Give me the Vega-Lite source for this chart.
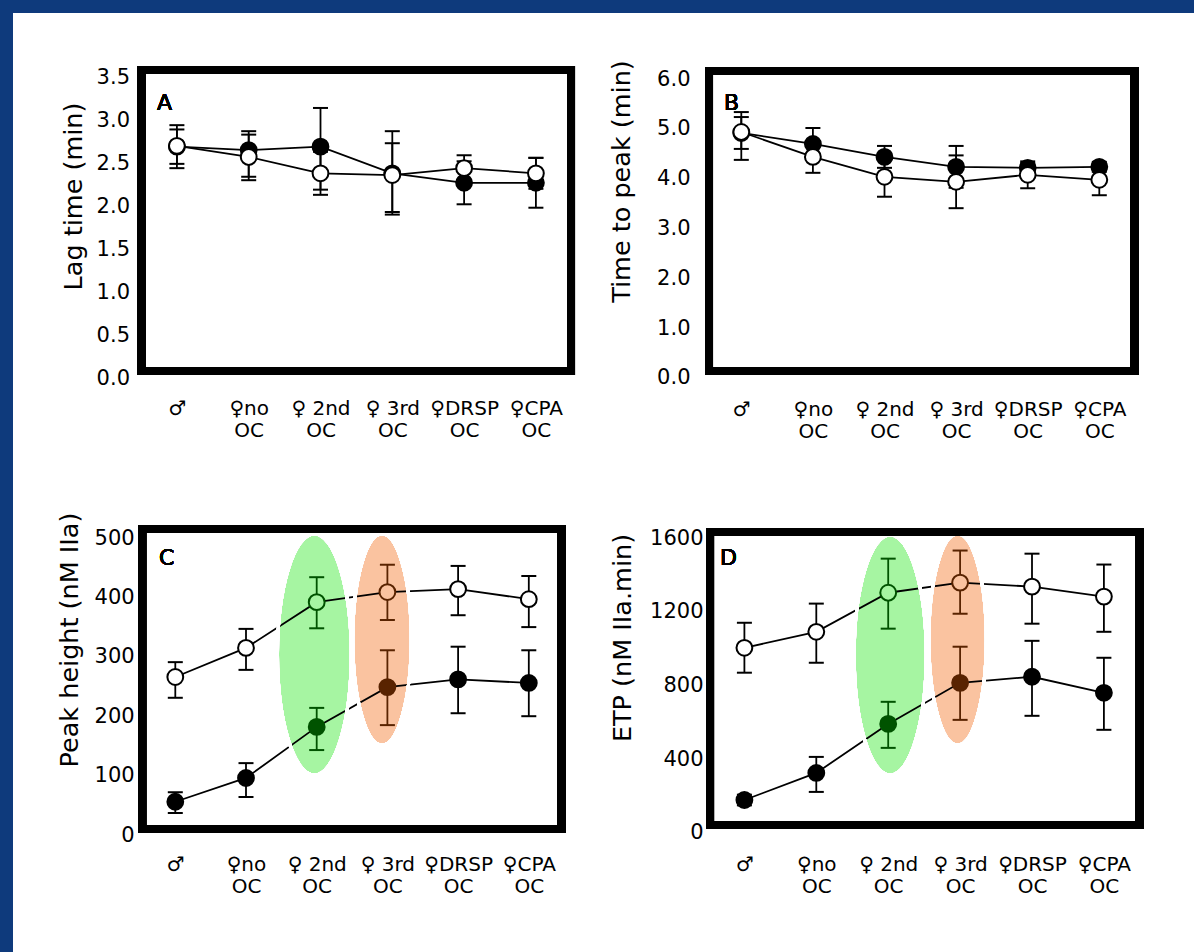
{
  "$schema": "https://vega.github.io/schema/vega-lite/v6.json",
  "background": "#0e3a7c",
  "padding": {"left": 13, "top": 13, "right": 0, "bottom": 0},
  "spacing": 0,
  "config": {
    "view": {"fill": "white", "stroke": null},
    "axis": {"domain": false, "ticks": false, "grid": false, "labelFont": "DejaVu Sans", "labelFontSize": 21, "labelColor": "black", "titleFont": "DejaVu Sans", "titleFontSize": 25.5, "titleFontWeight": "normal", "titleColor": "black", "labelOverlap": false, "labelFlush": false, "labelBound": false},
    "text": {"font": "DejaVu Sans"},
    "concat": {"spacing": 0}
  },
  "datasets": {
    "A": [
      {"group": "♂", "i": 0, "series": "filled", "mean": 2.69, "lo": 2.49, "hi": 2.89},
      {"group": "♀ no OC", "i": 1, "series": "filled", "mean": 2.65, "lo": 2.34, "hi": 2.87},
      {"group": "♀ 2nd OC", "i": 2, "series": "filled", "mean": 2.69, "lo": 2.19, "hi": 3.14},
      {"group": "♀ 3rd OC", "i": 3, "series": "filled", "mean": 2.38, "lo": 1.93, "hi": 2.87},
      {"group": "♀ DRSP OC", "i": 4, "series": "filled", "mean": 2.27, "lo": 2.02, "hi": 2.52},
      {"group": "♀ CPA OC", "i": 5, "series": "filled", "mean": 2.27, "lo": 1.98, "hi": 2.56},
      {"group": "♂", "i": 0, "series": "open", "mean": 2.7, "lo": 2.44, "hi": 2.94},
      {"group": "♀ no OC", "i": 1, "series": "open", "mean": 2.57, "lo": 2.3, "hi": 2.83},
      {"group": "♀ 2nd OC", "i": 2, "series": "open", "mean": 2.38, "lo": 2.13, "hi": 2.63},
      {"group": "♀ 3rd OC", "i": 3, "series": "open", "mean": 2.36, "lo": 1.9, "hi": 2.73},
      {"group": "♀ DRSP OC", "i": 4, "series": "open", "mean": 2.44, "lo": 2.29, "hi": 2.59},
      {"group": "♀ CPA OC", "i": 5, "series": "open", "mean": 2.38, "lo": 2.2, "hi": 2.56}
    ],
    "B": [
      {"group": "♂", "i": 0, "series": "filled", "mean": 4.92, "lo": 4.6, "hi": 5.24},
      {"group": "♀ no OC", "i": 1, "series": "filled", "mean": 4.7, "lo": 4.38, "hi": 5.02},
      {"group": "♀ 2nd OC", "i": 2, "series": "filled", "mean": 4.44, "lo": 4.22, "hi": 4.66},
      {"group": "♀ 3rd OC", "i": 3, "series": "filled", "mean": 4.24, "lo": 3.82, "hi": 4.66},
      {"group": "♀ DRSP OC", "i": 4, "series": "filled", "mean": 4.22, "lo": 4.12, "hi": 4.32},
      {"group": "♀ CPA OC", "i": 5, "series": "filled", "mean": 4.24, "lo": 4.14, "hi": 4.34},
      {"group": "♂", "i": 0, "series": "open", "mean": 4.94, "lo": 4.38, "hi": 5.34},
      {"group": "♀ no OC", "i": 1, "series": "open", "mean": 4.44, "lo": 4.12, "hi": 4.76},
      {"group": "♀ 2nd OC", "i": 2, "series": "open", "mean": 4.04, "lo": 3.64, "hi": 4.44},
      {"group": "♀ 3rd OC", "i": 3, "series": "open", "mean": 3.94, "lo": 3.41, "hi": 4.47},
      {"group": "♀ DRSP OC", "i": 4, "series": "open", "mean": 4.08, "lo": 3.81, "hi": 4.35},
      {"group": "♀ CPA OC", "i": 5, "series": "open", "mean": 3.98, "lo": 3.67, "hi": 4.29}
    ],
    "C": [
      {"group": "♂", "i": 0, "series": "filled", "mean": 56, "lo": 37, "hi": 72},
      {"group": "♀ no OC", "i": 1, "series": "filled", "mean": 96, "lo": 64, "hi": 121},
      {"group": "♀ 2nd OC", "i": 2, "series": "filled", "mean": 182, "lo": 143, "hi": 214},
      {"group": "♀ 3rd OC", "i": 3, "series": "filled", "mean": 249, "lo": 185, "hi": 311},
      {"group": "♀ DRSP OC", "i": 4, "series": "filled", "mean": 262, "lo": 205, "hi": 317},
      {"group": "♀ CPA OC", "i": 5, "series": "filled", "mean": 256, "lo": 200, "hi": 311},
      {"group": "♂", "i": 0, "series": "open", "mean": 266, "lo": 231, "hi": 291},
      {"group": "♀ no OC", "i": 1, "series": "open", "mean": 315, "lo": 278, "hi": 347},
      {"group": "♀ 2nd OC", "i": 2, "series": "open", "mean": 392, "lo": 348, "hi": 434},
      {"group": "♀ 3rd OC", "i": 3, "series": "open", "mean": 409, "lo": 362, "hi": 455},
      {"group": "♀ DRSP OC", "i": 4, "series": "open", "mean": 414, "lo": 370, "hi": 453},
      {"group": "♀ CPA OC", "i": 5, "series": "open", "mean": 397, "lo": 350, "hi": 436}
    ],
    "D": [
      {"group": "♂", "i": 0, "series": "filled", "mean": 179, "lo": 150, "hi": 208},
      {"group": "♀ no OC", "i": 1, "series": "filled", "mean": 326, "lo": 223, "hi": 413},
      {"group": "♀ 2nd OC", "i": 2, "series": "filled", "mean": 592, "lo": 462, "hi": 712},
      {"group": "♀ 3rd OC", "i": 3, "series": "filled", "mean": 815, "lo": 614, "hi": 1011},
      {"group": "♀ DRSP OC", "i": 4, "series": "filled", "mean": 848, "lo": 636, "hi": 1043},
      {"group": "♀ CPA OC", "i": 5, "series": "filled", "mean": 761, "lo": 560, "hi": 951},
      {"group": "♂", "i": 0, "series": "open", "mean": 1005, "lo": 870, "hi": 1141},
      {"group": "♀ no OC", "i": 1, "series": "open", "mean": 1092, "lo": 924, "hi": 1245},
      {"group": "♀ 2nd OC", "i": 2, "series": "open", "mean": 1304, "lo": 1109, "hi": 1489},
      {"group": "♀ 3rd OC", "i": 3, "series": "open", "mean": 1359, "lo": 1190, "hi": 1533},
      {"group": "♀ DRSP OC", "i": 4, "series": "open", "mean": 1337, "lo": 1136, "hi": 1516},
      {"group": "♀ CPA OC", "i": 5, "series": "open", "mean": 1283, "lo": 1092, "hi": 1457}
    ]
  },
  "vconcat": [
    {
      "spacing": 0,
      "hconcat": [
        {
          "width": 590, "height": 469,
          "data": {"name": "A"},
          "layer": [
            {"mark": {"type": "rect", "filled": false, "stroke": "black", "strokeWidth": 8},
             "encoding": {
               "x": {"datum": -0.493, "type": "quantitative", "scale": {"domain": [-2.2827, 5.9345], "nice": false, "zero": false}},
               "x2": {"datum": 5.489},
               "y": {"datum": 3.581, "type": "quantitative", "scale": {"domain": [-1.2093, 4.2442], "nice": false, "zero": false}},
               "y2": {"datum": 0.0814}
             }},
            {"mark": {"type": "line", "color": "black", "strokeWidth": 1.8},
             "encoding": {
               "x": {"field": "i", "type": "quantitative", "scale": {"domain": [-2.2827, 5.9345], "nice": false, "zero": false}},
               "y": {"field": "mean", "type": "quantitative", "scale": {"domain": [-1.2093, 4.2442], "nice": false, "zero": false}},
               "detail": {"field": "series"}, "order": {"field": "i"}}},
            {"mark": {"type": "rule", "color": "black", "strokeWidth": 1.8},
             "encoding": {
               "x": {"field": "i", "type": "quantitative", "scale": {"domain": [-2.2827, 5.9345], "nice": false, "zero": false}},
               "y": {"field": "lo", "type": "quantitative", "scale": {"domain": [-1.2093, 4.2442], "nice": false, "zero": false}},
               "y2": {"field": "hi"}}},
            {"mark": {"type": "tick", "orient": "horizontal", "color": "black", "thickness": 2, "size": 15, "opacity": 1},
             "encoding": {
               "x": {"field": "i", "type": "quantitative", "scale": {"domain": [-2.2827, 5.9345], "nice": false, "zero": false}},
               "y": {"field": "lo", "type": "quantitative", "scale": {"domain": [-1.2093, 4.2442], "nice": false, "zero": false}}}},
            {"mark": {"type": "tick", "orient": "horizontal", "color": "black", "thickness": 2, "size": 15, "opacity": 1},
             "encoding": {
               "x": {"field": "i", "type": "quantitative", "scale": {"domain": [-2.2827, 5.9345], "nice": false, "zero": false}},
               "y": {"field": "hi", "type": "quantitative", "scale": {"domain": [-1.2093, 4.2442], "nice": false, "zero": false}}}},
            {"mark": {"type": "point", "shape": "circle", "filled": true, "size": 250, "stroke": "black", "strokeWidth": 2, "opacity": 1},
             "encoding": {
               "x": {"field": "i", "type": "quantitative", "scale": {"domain": [-2.2827, 5.9345], "nice": false, "zero": false},
                     "axis": {"orient": "bottom", "offset": -111, "values": [0, 1, 2, 3, 4, 5], "labelExpr": "[['♂'],['♀no','OC'],['♀ 2nd','OC'],['♀ 3rd','OC'],['♀DRSP','OC'],['♀CPA','OC']][datum.value]", "labelPadding": 27, "labelFontSize": 20, "labelLineHeight": 22.5, "title": null}},
               "y": {"field": "mean", "type": "quantitative", "scale": {"domain": [-1.2093, 4.2442], "nice": false, "zero": false},
                     "axis": {"orient": "left", "offset": -128.5, "values": [0, 0.5, 1, 1.5, 2, 2.5, 3, 3.5], "format": ".1f", "labelPadding": 12, "title": "Lag time (min)", "titleX": -68.5, "titleY": 183, "titleAlign": "center", "titleBaseline": "middle", "titleAngle": -90}},
               "fill": {"field": "series", "type": "nominal", "scale": {"domain": ["filled", "open"], "range": ["black", "white"]}, "legend": null}}},
            {"mark": {"type": "text", "text": "A", "align": "left", "baseline": "alphabetic", "fontSize": 22, "color": "black"},
             "encoding": {
               "x": {"datum": -0.277, "type": "quantitative", "scale": {"domain": [-2.2827, 5.9345], "nice": false, "zero": false}},
               "y": {"datum": 3.116, "type": "quantitative", "scale": {"domain": [-1.2093, 4.2442], "nice": false, "zero": false}}}}
          ]
        },
        {
          "width": 591, "height": 469,
          "data": {"name": "B"},
          "layer": [
            {"mark": {"type": "rect", "filled": false, "stroke": "black", "strokeWidth": 8},
             "encoding": {
               "x": {"datum": -0.451, "type": "quantitative", "scale": {"domain": [-1.9316, 6.3226], "nice": false, "zero": false}},
               "x2": {"datum": 5.493},
               "y": {"datum": 6.165, "type": "quantitative", "scale": {"domain": [-2.0884, 7.3293], "nice": false, "zero": false}},
               "y2": {"datum": 0.1406}
             }},
            {"mark": {"type": "line", "color": "black", "strokeWidth": 1.8},
             "encoding": {
               "x": {"field": "i", "type": "quantitative", "scale": {"domain": [-1.9316, 6.3226], "nice": false, "zero": false}},
               "y": {"field": "mean", "type": "quantitative", "scale": {"domain": [-2.0884, 7.3293], "nice": false, "zero": false}},
               "detail": {"field": "series"}, "order": {"field": "i"}}},
            {"mark": {"type": "rule", "color": "black", "strokeWidth": 1.8},
             "encoding": {
               "x": {"field": "i", "type": "quantitative", "scale": {"domain": [-1.9316, 6.3226], "nice": false, "zero": false}},
               "y": {"field": "lo", "type": "quantitative", "scale": {"domain": [-2.0884, 7.3293], "nice": false, "zero": false}},
               "y2": {"field": "hi"}}},
            {"mark": {"type": "tick", "orient": "horizontal", "color": "black", "thickness": 2, "size": 15, "opacity": 1},
             "encoding": {
               "x": {"field": "i", "type": "quantitative", "scale": {"domain": [-1.9316, 6.3226], "nice": false, "zero": false}},
               "y": {"field": "lo", "type": "quantitative", "scale": {"domain": [-2.0884, 7.3293], "nice": false, "zero": false}}}},
            {"mark": {"type": "tick", "orient": "horizontal", "color": "black", "thickness": 2, "size": 15, "opacity": 1},
             "encoding": {
               "x": {"field": "i", "type": "quantitative", "scale": {"domain": [-1.9316, 6.3226], "nice": false, "zero": false}},
               "y": {"field": "hi", "type": "quantitative", "scale": {"domain": [-2.0884, 7.3293], "nice": false, "zero": false}}}},
            {"mark": {"type": "point", "shape": "circle", "filled": true, "size": 250, "stroke": "black", "strokeWidth": 2, "opacity": 1},
             "encoding": {
               "x": {"field": "i", "type": "quantitative", "scale": {"domain": [-1.9316, 6.3226], "nice": false, "zero": false},
                     "axis": {"orient": "bottom", "offset": -111, "values": [0, 1, 2, 3, 4, 5], "labelExpr": "[['♂'],['♀no','OC'],['♀ 2nd','OC'],['♀ 3rd','OC'],['♀DRSP','OC'],['♀CPA','OC']][datum.value]", "labelPadding": 28, "labelFontSize": 20, "labelLineHeight": 22.5, "title": null}},
               "y": {"field": "mean", "type": "quantitative", "scale": {"domain": [-2.0884, 7.3293], "nice": false, "zero": false},
                     "axis": {"orient": "left", "offset": -106, "values": [0, 1, 2, 3, 4, 5, 6], "format": ".1f", "labelPadding": 19, "title": "Time to peak (min)", "titleX": -88, "titleY": 168, "titleAlign": "center", "titleBaseline": "middle", "titleAngle": -90}},
               "fill": {"field": "series", "type": "nominal", "scale": {"domain": ["filled", "open"], "range": ["black", "white"]}, "legend": null}}},
            {"mark": {"type": "text", "text": "B", "align": "left", "baseline": "alphabetic", "fontSize": 22, "color": "black"},
             "encoding": {
               "x": {"datum": -0.242, "type": "quantitative", "scale": {"domain": [-1.9316, 6.3226], "nice": false, "zero": false}},
               "y": {"datum": 5.38, "type": "quantitative", "scale": {"domain": [-2.0884, 7.3293], "nice": false, "zero": false}}}}
          ]
        }
      ]
    },
    {
      "spacing": 0,
      "hconcat": [
        {
          "width": 590, "height": 470,
          "data": {"name": "C"},
          "layer": [
            {"mark": {"type": "point", "shape": "M -0.306 0 A 0.306 1 0 1 1 0.306 0 A 0.306 1 0 1 1 -0.306 0 Z", "size": 58081, "filled": true, "color": "#a6f5a2", "strokeWidth": 0, "opacity": 1},
             "encoding": {
               "x": {"datum": 1.967, "type": "quantitative", "scale": {"domain": [-2.2956, 6.0495], "nice": false, "zero": false}},
               "y": {"datum": 303.9, "type": "quantitative", "scale": {"domain": [-196.97, 594.28], "nice": false, "zero": false}}}},
            {"mark": {"type": "point", "shape": "M -0.277 0 A 0.277 1 0 1 1 0.277 0 A 0.277 1 0 1 1 -0.277 0 Z", "size": 44521, "filled": true, "color": "#fac3a0", "strokeWidth": 0, "opacity": 1},
             "encoding": {
               "x": {"datum": 2.924, "type": "quantitative", "scale": {"domain": [-2.2956, 6.0495], "nice": false, "zero": false}},
               "y": {"datum": 329.1, "type": "quantitative", "scale": {"domain": [-196.97, 594.28], "nice": false, "zero": false}}}},
            {"mark": {"type": "line", "color": "black", "strokeWidth": 1.8},
             "encoding": {
               "x": {"field": "i", "type": "quantitative", "scale": {"domain": [-2.2956, 6.0495], "nice": false, "zero": false}},
               "y": {"field": "mean", "type": "quantitative", "scale": {"domain": [-196.97, 594.28], "nice": false, "zero": false}},
               "detail": {"field": "series"}, "order": {"field": "i"}}},
            {"mark": {"type": "point", "shape": "M -0.306 0 A 0.306 1 0 1 1 0.306 0 A 0.306 1 0 1 1 -0.306 0 Z", "size": 58081, "filled": false, "color": "white", "strokeWidth": 3, "opacity": 1},
             "encoding": {
               "x": {"datum": 1.967, "type": "quantitative", "scale": {"domain": [-2.2956, 6.0495], "nice": false, "zero": false}},
               "y": {"datum": 303.9, "type": "quantitative", "scale": {"domain": [-196.97, 594.28], "nice": false, "zero": false}}}},
            {"mark": {"type": "point", "shape": "M -0.277 0 A 0.277 1 0 1 1 0.277 0 A 0.277 1 0 1 1 -0.277 0 Z", "size": 44521, "filled": false, "color": "white", "strokeWidth": 3, "opacity": 1},
             "encoding": {
               "x": {"datum": 2.924, "type": "quantitative", "scale": {"domain": [-2.2956, 6.0495], "nice": false, "zero": false}},
               "y": {"datum": 329.1, "type": "quantitative", "scale": {"domain": [-196.97, 594.28], "nice": false, "zero": false}}}},
            {"mark": {"type": "rect", "filled": false, "stroke": "black", "strokeWidth": 8},
             "encoding": {
               "x": {"datum": -0.468, "type": "quantitative", "scale": {"domain": [-2.2956, 6.0495], "nice": false, "zero": false}},
               "x2": {"datum": 5.464},
               "y": {"datum": 515.15, "type": "quantitative", "scale": {"domain": [-196.97, 594.28], "nice": false, "zero": false}},
               "y2": {"datum": 10.1}
             }},
            {"mark": {"type": "rule", "strokeWidth": 1.8},
             "encoding": {
               "x": {"field": "i", "type": "quantitative", "scale": {"domain": [-2.2956, 6.0495], "nice": false, "zero": false}},
               "y": {"field": "lo", "type": "quantitative", "scale": {"domain": [-196.97, 594.28], "nice": false, "zero": false}},
               "y2": {"field": "hi"},
               "color": {"condition": [{"test": "datum.i === 2", "value": "#005300"}, {"test": "datum.i === 3", "value": "#592300"}], "value": "black"}}},
            {"mark": {"type": "tick", "orient": "horizontal", "thickness": 2, "size": 15, "opacity": 1},
             "encoding": {
               "x": {"field": "i", "type": "quantitative", "scale": {"domain": [-2.2956, 6.0495], "nice": false, "zero": false}},
               "y": {"field": "lo", "type": "quantitative", "scale": {"domain": [-196.97, 594.28], "nice": false, "zero": false}},
               "color": {"condition": [{"test": "datum.i === 2", "value": "#005300"}, {"test": "datum.i === 3", "value": "#592300"}], "value": "black"}}},
            {"mark": {"type": "tick", "orient": "horizontal", "thickness": 2, "size": 15, "opacity": 1},
             "encoding": {
               "x": {"field": "i", "type": "quantitative", "scale": {"domain": [-2.2956, 6.0495], "nice": false, "zero": false}},
               "y": {"field": "hi", "type": "quantitative", "scale": {"domain": [-196.97, 594.28], "nice": false, "zero": false}},
               "color": {"condition": [{"test": "datum.i === 2", "value": "#005300"}, {"test": "datum.i === 3", "value": "#592300"}], "value": "black"}}},
            {"mark": {"type": "point", "shape": "circle", "filled": true, "size": 250, "strokeWidth": 2, "opacity": 1},
             "encoding": {
               "x": {"field": "i", "type": "quantitative", "scale": {"domain": [-2.2956, 6.0495], "nice": false, "zero": false},
                     "axis": {"orient": "bottom", "offset": -123, "values": [0, 1, 2, 3, 4, 5], "labelExpr": "[['♂'],['♀no','OC'],['♀ 2nd','OC'],['♀ 3rd','OC'],['♀DRSP','OC'],['♀CPA','OC']][datum.value]", "labelPadding": 25, "labelFontSize": 20, "labelLineHeight": 22.5, "title": null}},
               "y": {"field": "mean", "type": "quantitative", "scale": {"domain": [-196.97, 594.28], "nice": false, "zero": false},
                     "axis": {"orient": "left", "offset": -129.2, "values": [0, 100, 200, 300, 400, 500], "format": "d", "labelPadding": 8, "title": "Peak height (nM IIa)", "titleX": -73, "titleY": 157.5, "titleAlign": "center", "titleBaseline": "middle", "titleAngle": -90}},
               "fill": {"condition": [{"test": "datum.i === 2 && datum.series === 'filled'", "value": "#005300"}, {"test": "datum.i === 3 && datum.series === 'filled'", "value": "#592300"}, {"test": "datum.i === 2", "value": "#a6f5a2"}, {"test": "datum.i === 3", "value": "#fac3a0"}],
                        "field": "series", "type": "nominal", "scale": {"domain": ["filled", "open"], "range": ["black", "white"]}, "legend": null},
               "stroke": {"condition": [{"test": "datum.i === 2", "value": "#005300"}, {"test": "datum.i === 3", "value": "#592300"}], "value": "black"}}},
            {"mark": {"type": "text", "text": "C", "align": "left", "baseline": "alphabetic", "fontSize": 22, "color": "black"},
             "encoding": {
               "x": {"datum": -0.23, "type": "quantitative", "scale": {"domain": [-2.2956, 6.0495], "nice": false, "zero": false}},
               "y": {"datum": 454.5, "type": "quantitative", "scale": {"domain": [-196.97, 594.28], "nice": false, "zero": false}}}}
          ]
        },
        {
          "width": 591, "height": 470,
          "data": {"name": "D"},
          "layer": [
            {"mark": {"type": "point", "shape": "M -0.3 0 A 0.3 1 0 1 1 0.3 0 A 0.3 1 0 1 1 -0.3 0 Z", "size": 57600, "filled": true, "color": "#a6f5a2", "strokeWidth": 0, "opacity": 1},
             "encoding": {
               "x": {"datum": 2.028, "type": "quantitative", "scale": {"domain": [-1.9666, 6.2531], "nice": false, "zero": false}},
               "y": {"datum": 966, "type": "quantitative", "scale": {"domain": [-645.86, 1905.0], "nice": false, "zero": false}}}},
            {"mark": {"type": "point", "shape": "M -0.272 0 A 0.272 1 0 1 1 0.272 0 A 0.272 1 0 1 1 -0.272 0 Z", "size": 44521, "filled": true, "color": "#fac3a0", "strokeWidth": 0, "opacity": 1},
             "encoding": {
               "x": {"datum": 2.965, "type": "quantitative", "scale": {"domain": [-1.9666, 6.2531], "nice": false, "zero": false}},
               "y": {"datum": 1050, "type": "quantitative", "scale": {"domain": [-645.86, 1905.0], "nice": false, "zero": false}}}},
            {"mark": {"type": "line", "color": "black", "strokeWidth": 1.8},
             "encoding": {
               "x": {"field": "i", "type": "quantitative", "scale": {"domain": [-1.9666, 6.2531], "nice": false, "zero": false}},
               "y": {"field": "mean", "type": "quantitative", "scale": {"domain": [-645.86, 1905.0], "nice": false, "zero": false}},
               "detail": {"field": "series"}, "order": {"field": "i"}}},
            {"mark": {"type": "point", "shape": "M -0.3 0 A 0.3 1 0 1 1 0.3 0 A 0.3 1 0 1 1 -0.3 0 Z", "size": 57600, "filled": false, "color": "white", "strokeWidth": 3, "opacity": 1},
             "encoding": {
               "x": {"datum": 2.028, "type": "quantitative", "scale": {"domain": [-1.9666, 6.2531], "nice": false, "zero": false}},
               "y": {"datum": 966, "type": "quantitative", "scale": {"domain": [-645.86, 1905.0], "nice": false, "zero": false}}}},
            {"mark": {"type": "point", "shape": "M -0.272 0 A 0.272 1 0 1 1 0.272 0 A 0.272 1 0 1 1 -0.272 0 Z", "size": 44521, "filled": false, "color": "white", "strokeWidth": 3, "opacity": 1},
             "encoding": {
               "x": {"datum": 2.965, "type": "quantitative", "scale": {"domain": [-1.9666, 6.2531], "nice": false, "zero": false}},
               "y": {"datum": 1050, "type": "quantitative", "scale": {"domain": [-645.86, 1905.0], "nice": false, "zero": false}}}},
            {"mark": {"type": "rect", "filled": false, "stroke": "black", "strokeWidth": 8},
             "encoding": {
               "x": {"datum": -0.478, "type": "quantitative", "scale": {"domain": [-1.9666, 6.2531], "nice": false, "zero": false}},
               "x2": {"datum": 5.498},
               "y": {"datum": 1633.6, "type": "quantitative", "scale": {"domain": [-645.86, 1905.0], "nice": false, "zero": false}},
               "y2": {"datum": 43.4}
             }},
            {"mark": {"type": "rule", "strokeWidth": 1.8},
             "encoding": {
               "x": {"field": "i", "type": "quantitative", "scale": {"domain": [-1.9666, 6.2531], "nice": false, "zero": false}},
               "y": {"field": "lo", "type": "quantitative", "scale": {"domain": [-645.86, 1905.0], "nice": false, "zero": false}},
               "y2": {"field": "hi"},
               "color": {"condition": [{"test": "datum.i === 2", "value": "#005300"}, {"test": "datum.i === 3", "value": "#592300"}], "value": "black"}}},
            {"mark": {"type": "tick", "orient": "horizontal", "thickness": 2, "size": 15, "opacity": 1},
             "encoding": {
               "x": {"field": "i", "type": "quantitative", "scale": {"domain": [-1.9666, 6.2531], "nice": false, "zero": false}},
               "y": {"field": "lo", "type": "quantitative", "scale": {"domain": [-645.86, 1905.0], "nice": false, "zero": false}},
               "color": {"condition": [{"test": "datum.i === 2", "value": "#005300"}, {"test": "datum.i === 3", "value": "#592300"}], "value": "black"}}},
            {"mark": {"type": "tick", "orient": "horizontal", "thickness": 2, "size": 15, "opacity": 1},
             "encoding": {
               "x": {"field": "i", "type": "quantitative", "scale": {"domain": [-1.9666, 6.2531], "nice": false, "zero": false}},
               "y": {"field": "hi", "type": "quantitative", "scale": {"domain": [-645.86, 1905.0], "nice": false, "zero": false}},
               "color": {"condition": [{"test": "datum.i === 2", "value": "#005300"}, {"test": "datum.i === 3", "value": "#592300"}], "value": "black"}}},
            {"mark": {"type": "point", "shape": "circle", "filled": true, "size": 250, "strokeWidth": 2, "opacity": 1},
             "encoding": {
               "x": {"field": "i", "type": "quantitative", "scale": {"domain": [-1.9666, 6.2531], "nice": false, "zero": false},
                     "axis": {"orient": "bottom", "offset": -127, "values": [0, 1, 2, 3, 4, 5], "labelExpr": "[['♂'],['♀no','OC'],['♀ 2nd','OC'],['♀ 3rd','OC'],['♀DRSP','OC'],['♀CPA','OC']][datum.value]", "labelPadding": 29, "labelFontSize": 20, "labelLineHeight": 22.5, "title": null}},
               "y": {"field": "mean", "type": "quantitative", "scale": {"domain": [-645.86, 1905.0], "nice": false, "zero": false},
                     "axis": {"orient": "left", "offset": -107, "values": [0, 400, 800, 1200, 1600], "format": "d", "labelPadding": 7, "title": "ETP (nM IIa.min)", "titleX": -88, "titleY": 155.5, "titleAlign": "center", "titleBaseline": "middle", "titleAngle": -90}},
               "fill": {"condition": [{"test": "datum.i === 2 && datum.series === 'filled'", "value": "#005300"}, {"test": "datum.i === 3 && datum.series === 'filled'", "value": "#592300"}, {"test": "datum.i === 2", "value": "#a6f5a2"}, {"test": "datum.i === 3", "value": "#fac3a0"}],
                        "field": "series", "type": "nominal", "scale": {"domain": ["filled", "open"], "range": ["black", "white"]}, "legend": null},
               "stroke": {"condition": [{"test": "datum.i === 2", "value": "#005300"}, {"test": "datum.i === 3", "value": "#592300"}], "value": "black"}}},
            {"mark": {"type": "text", "text": "D", "align": "left", "baseline": "alphabetic", "fontSize": 22, "color": "black"},
             "encoding": {
               "x": {"datum": -0.339, "type": "quantitative", "scale": {"domain": [-1.9666, 6.2531], "nice": false, "zero": false}},
               "y": {"datum": 1454.5, "type": "quantitative", "scale": {"domain": [-645.86, 1905.0], "nice": false, "zero": false}}}}
          ]
        }
      ]
    }
  ]
}
